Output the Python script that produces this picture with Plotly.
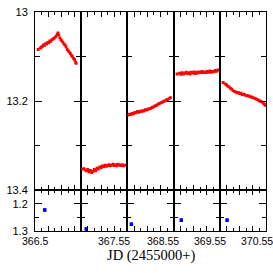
import plotly.graph_objects as go

# ---- data ----
panel_starts = [366.5, 367.55, 368.55, 369.55, 370.55]
panel_labels = ["366.5", "367.55", "368.55", "369.55", "370.55"]

jd1 = [366.524, 366.540, 366.548, 366.556, 366.564, 366.572, 366.580, 366.588, 366.596,
       366.604, 366.612, 366.620, 366.628, 366.636, 366.644, 366.652, 366.660, 366.668,
       366.674, 366.680, 366.688, 366.696, 366.704, 366.712, 366.720, 366.728, 366.736,
       366.744, 366.752, 366.760, 366.768, 366.776, 366.784, 366.792, 366.800, 366.808, 366.812]
mag1 = [13.084, 13.081, 13.079, 13.077, 13.074, 13.075, 13.071, 13.072, 13.068,
        13.069, 13.065, 13.066, 13.062, 13.061, 13.059, 13.057, 13.054, 13.050,
        13.047, 13.052, 13.058, 13.062, 13.065, 13.068, 13.072, 13.074, 13.078,
        13.084, 13.087, 13.090, 13.093, 13.097, 13.100, 13.104, 13.107, 13.113, 13.115]

jd2 = [367.555, 367.570, 367.580, 367.590, 367.600, 367.610, 367.620, 367.630, 367.640,
       367.650, 367.660, 367.670, 367.680, 367.690, 367.700, 367.710, 367.720, 367.730,
       367.740, 367.750, 367.760, 367.770, 367.780, 367.790, 367.800, 367.810, 367.820,
       367.830, 367.840, 367.850, 367.860, 367.870, 367.880]
mag2 = [13.352, 13.351, 13.354, 13.356, 13.353, 13.358, 13.355, 13.360, 13.357,
        13.353, 13.356, 13.350, 13.352, 13.347, 13.349, 13.345, 13.347, 13.343,
        13.346, 13.344, 13.342, 13.345, 13.343, 13.341, 13.344, 13.342, 13.345,
        13.341, 13.343, 13.344, 13.342, 13.345, 13.343]

jd3 = [368.556, 368.566, 368.576, 368.586, 368.596, 368.606, 368.616, 368.626, 368.636,
       368.646, 368.656, 368.666, 368.676, 368.686, 368.696, 368.706, 368.716, 368.726,
       368.736, 368.746, 368.756, 368.766, 368.776, 368.786, 368.796, 368.806, 368.816,
       368.826, 368.836, 368.846, 368.856, 368.866, 368.876]
mag3 = [13.231, 13.229, 13.230, 13.227, 13.228, 13.225, 13.226, 13.223, 13.225,
        13.222, 13.223, 13.221, 13.222, 13.219, 13.220, 13.218, 13.217, 13.216,
        13.214, 13.213, 13.211, 13.210, 13.208, 13.206, 13.205, 13.203, 13.202,
        13.200, 13.199, 13.197, 13.196, 13.194, 13.192]

jd4 = [369.576, 369.595, 369.605, 369.615, 369.625, 369.635, 369.645, 369.655, 369.665,
       369.675, 369.685, 369.695, 369.705, 369.715, 369.725, 369.735, 369.745, 369.755,
       369.765, 369.775, 369.785, 369.795, 369.805, 369.815, 369.825, 369.835, 369.845,
       369.855, 369.865, 369.875, 369.885]
mag4 = [13.139, 13.137, 13.140, 13.136, 13.139, 13.137, 13.135, 13.138, 13.136,
        13.139, 13.135, 13.137, 13.134, 13.138, 13.135, 13.137, 13.134, 13.136,
        13.133, 13.136, 13.134, 13.136, 13.133, 13.135, 13.132, 13.135, 13.133,
        13.134, 13.131, 13.133, 13.130]

jd5 = [370.575, 370.590, 370.600, 370.610, 370.620, 370.630, 370.640, 370.650, 370.660,
       370.670, 370.680, 370.690, 370.700, 370.710, 370.720, 370.730, 370.740, 370.750,
       370.760, 370.770, 370.780, 370.790, 370.800, 370.810, 370.820, 370.830, 370.840,
       370.850, 370.860, 370.870, 370.880, 370.890, 370.898]
mag5 = [13.158, 13.161, 13.163, 13.166, 13.168, 13.171, 13.173, 13.176, 13.178,
        13.179, 13.181, 13.180, 13.183, 13.182, 13.185, 13.184, 13.186, 13.187,
        13.188, 13.188, 13.190, 13.190, 13.192, 13.193, 13.194, 13.196, 13.197,
        13.199, 13.200, 13.202, 13.205, 13.207, 13.210]

jd_blue = [366.574, 367.588, 368.580, 369.608, 370.605]
val_blue = [1.222, 1.293, 1.275, 1.260, 1.260]
err_blue = [0.004, 0.004, 0.004, 0.004, 0.004]

red_jd = [jd1, jd2, jd3, jd4, jd5]
red_mag = [mag1, mag2, mag3, mag4, mag5]

# ---- figure ----
fig = go.Figure()
span = 0.35
low_frac = 0.185
font_sans = "Liberation Sans, Arial, sans-serif"

for i in range(5):
    top = i + 1
    bot = i + 6
    fig.add_trace(go.Scatter(x=red_jd[i], y=red_mag[i], mode="markers",
                             marker=dict(symbol="square", size=2.8, color="#ff0000", line=dict(width=0)),
                             xaxis=f"x{top}", yaxis=f"y{top}", showlegend=False))
    fig.add_trace(go.Scatter(x=[jd_blue[i]], y=[val_blue[i]], mode="markers",
                             marker=dict(symbol="square", size=3.5, color="#0000ff", line=dict(width=0)),
                             error_y=dict(type="data", array=[err_blue[i]], color="#0000ff",
                                          thickness=1.5, width=1),
                             xaxis=f"x{bot}", yaxis=f"y{bot}", showlegend=False))

layout = dict(
    width=273, height=273,
    margin=dict(l=34, r=6, t=10, b=42),
    paper_bgcolor="white", plot_bgcolor="white",
    font=dict(family=font_sans, size=11, color="black"),
)

for i in range(5):
    s = panel_starts[i]
    dom = [i / 5, (i + 1) / 5]
    xcommon = dict(range=[s, s + span], domain=dom, showgrid=False, zeroline=False,
                   showline=True, linecolor="black", linewidth=1, mirror="allticks",
                   ticks="inside", ticklen=5, tickcolor="black", tickwidth=1,
                   tickmode="linear", tick0=0, dtick=0.1, showticklabels=False,
                   minor=dict(ticks="inside", ticklen=3, tickcolor="black", dtick=0.05, tick0=0,
                              showgrid=False))
    layout[f"xaxis{i+1}"] = dict(xcommon, anchor=f"y{i+1}")
    layout[f"xaxis{i+6}"] = dict(xcommon, anchor=f"y{i+6}")

    layout[f"yaxis{i+1}"] = dict(
        range=[13.4, 13.0], domain=[low_frac, 1], showgrid=False, zeroline=False,
        showline=True, linecolor="black", linewidth=1, mirror="allticks",
        ticks="inside", ticklen=7, tickcolor="black", tickwidth=1,
        tickmode="linear", tick0=13.0, dtick=0.2,
        showticklabels=(i == 0), ticklabelstandoff=4,
        minor=dict(ticks="inside", ticklen=5, tickcolor="black", dtick=0.1, tick0=13.0,
                   showgrid=False),
        anchor=f"x{i+1}")
    layout[f"yaxis{i+6}"] = dict(
        range=[1.3, 1.15], domain=[0, low_frac], showgrid=False, zeroline=False,
        showline=True, linecolor="black", linewidth=1, mirror="allticks",
        ticks="inside", ticklen=7, tickcolor="black", tickwidth=1,
        tickmode="linear", tick0=1.2, dtick=0.1,
        showticklabels=(i == 0), ticklabelstandoff=4,
        minor=dict(ticks="inside", ticklen=4, tickcolor="black", dtick=0.05, tick0=1.2,
                   showgrid=False),
        anchor=f"x{i+6}")

fig.update_layout(**layout)

# x labels (one per night) and axis title
label_px = [33.5, 113.7, 163.0, 211.0, 258.0]
annots = []
for lab, px in zip(panel_labels, label_px):
    annots.append(dict(text=lab, x=(px - 34) / 233, y=(231 - 241) / 221, xref="paper", yref="paper",
                       xanchor="center", yanchor="middle", showarrow=False,
                       font=dict(family=font_sans, size=10.5, color="black")))
annots.append(dict(text="JD (2455000+)", x=0.5, y=(231 - 256) / 221, xref="paper", yref="paper",
                   xanchor="center", yanchor="middle", showarrow=False,
                   font=dict(family="Liberation Serif, Times New Roman, serif", size=14.5, color="black")))
fig.update_layout(annotations=annots)

fig.write_html("out.html", config={"displayModeBar": False},
               post_script="document.body.style.margin='0';document.body.style.padding='0';")
